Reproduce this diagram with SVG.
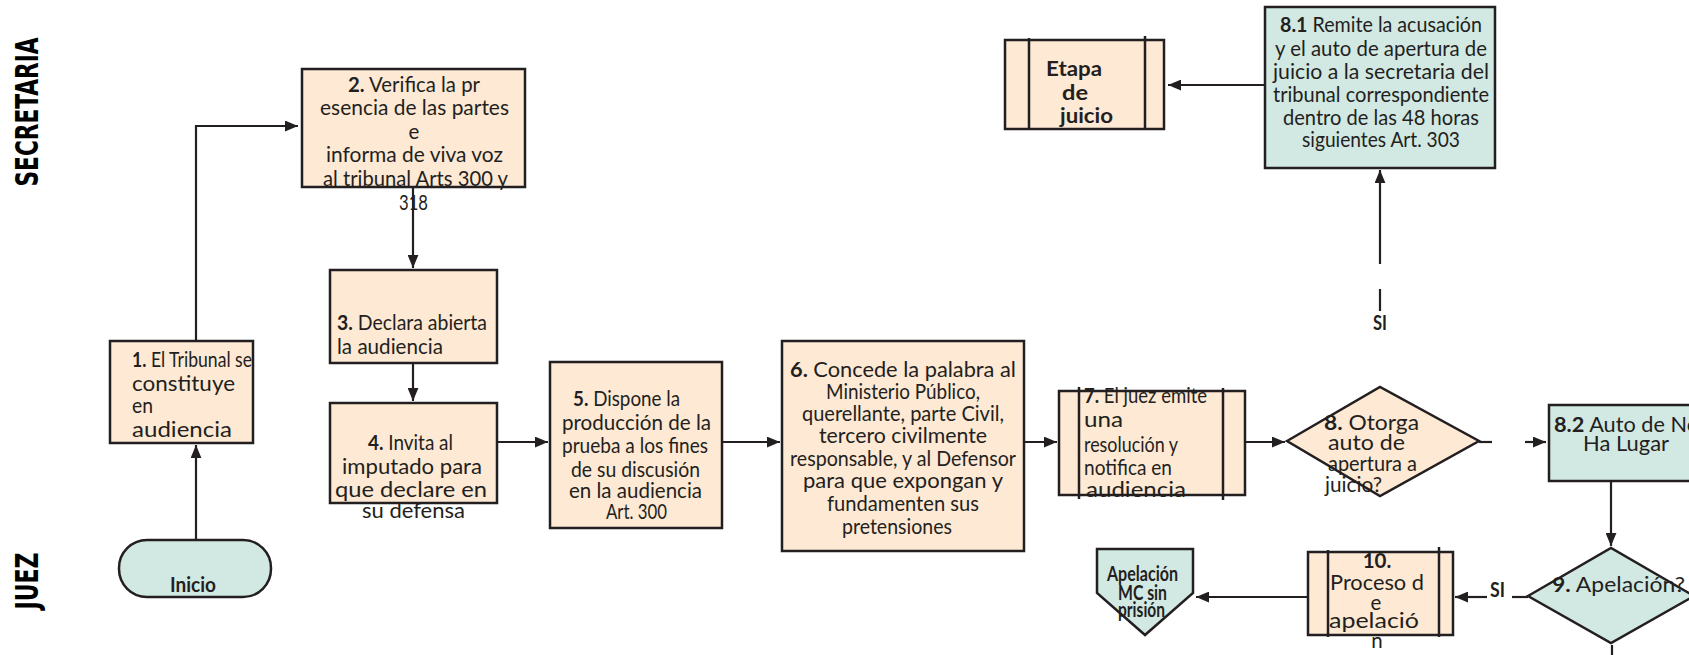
<svg xmlns="http://www.w3.org/2000/svg" width="1689" height="655" viewBox="0 0 1689 655">
<defs>
<style>
.box{fill:#FDE9D4;stroke:#231F20;stroke-width:2.5}
.tb{fill:#D2E8E2;stroke:#231F20;stroke-width:2.5}
.ln{stroke:#231F20;stroke-width:2.5;fill:none}
.t{font-family:Lato,"Liberation Sans",sans-serif;font-size:20.5px;fill:#231F20}
.b{font-weight:bold}
.c{text-anchor:middle}
.lane{font-family:"DejaVu Sans Condensed","DejaVu Sans",sans-serif;font-weight:bold;font-size:32px;fill:#000;text-anchor:middle}
.conn{stroke:#231F20;stroke-width:2.2;fill:none}
</style>
<marker id="ah" viewBox="0 0 12 10" markerWidth="13" markerHeight="11" refX="12" refY="5" orient="auto" markerUnits="userSpaceOnUse">
<path d="M0,0 L12,5 L0,10 z" fill="#231F20"/>
</marker>
</defs>
<rect width="1689" height="655" fill="#fff"/>

<g id="lanes">
<text class="lane" transform="translate(38,112) rotate(-90)" textLength="149" lengthAdjust="spacingAndGlyphs">SECRETARIA</text>
<text class="lane" transform="translate(38,581) rotate(-90)" textLength="57" lengthAdjust="spacingAndGlyphs">JUEZ</text>
</g>

<g id="inicio">
<rect class="tb" x="119" y="540" width="152" height="57" rx="28"/>
<text class="t b" x="170" y="592" font-size="17.5" textLength="46" lengthAdjust="spacingAndGlyphs">Inicio</text>
</g>

<g id="n1">
<rect class="box" x="110" y="341" width="143" height="102"/>
<text class="t" x="132" y="367" font-size="18" textLength="120" lengthAdjust="spacingAndGlyphs"><tspan class="b">1.</tspan> El Tribunal se</text>
<text class="t" x="132" y="391" font-size="22" textLength="103" lengthAdjust="spacingAndGlyphs">constituye</text>
<text class="t" x="132" y="413" font-size="22" textLength="21" lengthAdjust="spacingAndGlyphs">en</text>
<text class="t" x="132" y="437" font-size="22" textLength="100" lengthAdjust="spacingAndGlyphs">audiencia</text>
</g>

<g id="n2">
<rect class="box" x="302" y="69" width="223" height="118"/>
<text class="t" x="348" y="92" font-size="21.5" textLength="132" lengthAdjust="spacingAndGlyphs"><tspan class="b">2.</tspan> Verifica la pr</text>
<text class="t" x="320" y="115" font-size="21.5" textLength="189" lengthAdjust="spacingAndGlyphs">esencia de las partes</text>
<text class="t c" x="414" y="139" font-size="21.5">e</text>
<text class="t" x="326" y="162" font-size="21.5" textLength="177" lengthAdjust="spacingAndGlyphs">informa de viva voz</text>
<text class="t" x="323" y="186" font-size="21.5" textLength="185" lengthAdjust="spacingAndGlyphs">al tribunal Arts 300 y</text>
<text class="t" x="399" y="210" font-size="20" textLength="29" lengthAdjust="spacingAndGlyphs">318</text>
</g>

<g id="n3">
<rect class="box" x="330" y="270" width="167" height="93"/>
<text class="t" x="337" y="330" textLength="150" lengthAdjust="spacingAndGlyphs"><tspan class="b">3.</tspan> Declara abierta</text>
<text class="t" x="337" y="354" textLength="106" lengthAdjust="spacingAndGlyphs">la audiencia</text>
</g>

<g id="n4">
<rect class="box" x="330" y="403" width="167" height="100"/>
<text class="t" x="368" y="450" textLength="85" lengthAdjust="spacingAndGlyphs"><tspan class="b">4.</tspan> Invita al</text>
<text class="t" x="342" y="474" textLength="140" lengthAdjust="spacingAndGlyphs">imputado para</text>
<text class="t" x="335" y="497" textLength="152" lengthAdjust="spacingAndGlyphs">que declare en</text>
<text class="t" x="362" y="518" textLength="103" lengthAdjust="spacingAndGlyphs">su defensa</text>
</g>

<g id="n5">
<rect class="box" x="550" y="362" width="172" height="166"/>
<text class="t" x="573" y="406" textLength="107" lengthAdjust="spacingAndGlyphs"><tspan class="b">5.</tspan> Dispone la</text>
<text class="t" x="562" y="430" textLength="149" lengthAdjust="spacingAndGlyphs">producción de la</text>
<text class="t" x="562" y="453" textLength="146" lengthAdjust="spacingAndGlyphs">prueba a los fines</text>
<text class="t" x="571" y="477" textLength="129" lengthAdjust="spacingAndGlyphs">de su discusión</text>
<text class="t" x="569" y="498" textLength="133" lengthAdjust="spacingAndGlyphs">en la audiencia</text>
<text class="t" x="606" y="519" textLength="61" lengthAdjust="spacingAndGlyphs">Art. 300</text>
</g>

<g id="n6">
<rect class="box" x="782" y="341" width="242" height="210"/>
<text class="t" x="790" y="377" textLength="226" lengthAdjust="spacingAndGlyphs"><tspan class="b">6.</tspan> Concede la palabra al</text>
<text class="t" x="826" y="399" textLength="154" lengthAdjust="spacingAndGlyphs">Ministerio Público,</text>
<text class="t" x="802" y="421" textLength="202" lengthAdjust="spacingAndGlyphs">querellante, parte Civil,</text>
<text class="t" x="819" y="443" textLength="168" lengthAdjust="spacingAndGlyphs">tercero civilmente</text>
<text class="t" x="790" y="466" textLength="226" lengthAdjust="spacingAndGlyphs">responsable, y al Defensor</text>
<text class="t" x="803" y="488" textLength="200" lengthAdjust="spacingAndGlyphs">para que expongan y</text>
<text class="t" x="827" y="511" textLength="152" lengthAdjust="spacingAndGlyphs">fundamenten sus</text>
<text class="t" x="842" y="534" textLength="110" lengthAdjust="spacingAndGlyphs">pretensiones</text>
</g>

<g id="n7">
<rect class="box" x="1059" y="391" width="186" height="104"/>
<line class="ln" x1="1079" y1="387" x2="1079" y2="499"/>
<line class="ln" x1="1223" y1="388" x2="1223" y2="500"/>
<text class="t" x="1084" y="403" textLength="123" lengthAdjust="spacingAndGlyphs"><tspan class="b">7.</tspan> El juez emite</text>
<text class="t" x="1084" y="427" textLength="39" lengthAdjust="spacingAndGlyphs">una</text>
<text class="t" x="1084" y="452" textLength="94" lengthAdjust="spacingAndGlyphs">resolución y</text>
<text class="t" x="1084" y="475" textLength="88" lengthAdjust="spacingAndGlyphs">notifica en</text>
<text class="t" x="1086" y="497" textLength="100" lengthAdjust="spacingAndGlyphs">audiencia</text>
</g>

<g id="n8">
<polygon class="box" points="1287,441 1380,387 1479,441 1380,496"/>
<text class="t" x="1324" y="430" font-size="19.5" textLength="95" lengthAdjust="spacingAndGlyphs"><tspan class="b">8.</tspan> Otorga</text>
<text class="t" x="1328" y="450" font-size="19.5" textLength="77" lengthAdjust="spacingAndGlyphs">auto de</text>
<text class="t" x="1328" y="471" font-size="19.5" textLength="89" lengthAdjust="spacingAndGlyphs">apertura a</text>
<text class="t" x="1325" y="492" font-size="19.5" textLength="57" lengthAdjust="spacingAndGlyphs">juicio?</text>
</g>

<g id="n81">
<rect class="tb" x="1265" y="7" width="230" height="161"/>
<text class="t" x="1280" y="32" font-size="18.5" textLength="202" lengthAdjust="spacingAndGlyphs"><tspan class="b">8.1</tspan> Remite la acusación</text>
<text class="t" x="1275" y="56" font-size="18.5" textLength="212" lengthAdjust="spacingAndGlyphs">y el auto de apertura de</text>
<text class="t" x="1273" y="79" font-size="18.5" textLength="216" lengthAdjust="spacingAndGlyphs">juicio a la secretaria del</text>
<text class="t" x="1273" y="102" font-size="18.5" textLength="216" lengthAdjust="spacingAndGlyphs">tribunal correspondiente</text>
<text class="t" x="1283" y="125" font-size="18.5" textLength="196" lengthAdjust="spacingAndGlyphs">dentro de las 48 horas</text>
<text class="t" x="1302" y="147" font-size="18.5" textLength="158" lengthAdjust="spacingAndGlyphs">siguientes Art. 303</text>
</g>

<g id="etapa">
<rect class="box" x="1005" y="40" width="159" height="89"/>
<line class="ln" x1="1029" y1="38" x2="1029" y2="130"/>
<line class="ln" x1="1145" y1="36" x2="1145" y2="128"/>
<text class="t b" x="1046" y="76" textLength="56" lengthAdjust="spacingAndGlyphs">Etapa</text>
<text class="t b" x="1062" y="100" textLength="26" lengthAdjust="spacingAndGlyphs">de</text>
<text class="t b" x="1060" y="123" textLength="53" lengthAdjust="spacingAndGlyphs">juicio</text>
</g>

<g id="n82">
<rect class="tb" x="1549" y="405" width="154" height="76"/>
<text class="t" x="1554" y="432" font-size="21" textLength="145" lengthAdjust="spacingAndGlyphs"><tspan class="b">8.2</tspan> Auto de No</text>
<text class="t" x="1583" y="451" font-size="21" textLength="86" lengthAdjust="spacingAndGlyphs">Ha Lugar</text>
</g>

<g id="n9">
<polygon class="tb" points="1528,596 1611,548 1694,596 1611,643"/>
<text class="t" x="1552" y="592" font-size="21" textLength="133" lengthAdjust="spacingAndGlyphs"><tspan class="b">9.</tspan> Apelación?</text>
</g>

<g id="n10">
<rect class="box" x="1308" y="552" width="145" height="83"/>
<line class="ln" x1="1328" y1="550" x2="1328" y2="637"/>
<line class="ln" x1="1439" y1="547" x2="1439" y2="637"/>
<text class="t b c" x="1377" y="568" font-size="19">10.</text>
<text class="t" x="1330" y="590" font-size="19.5" textLength="94" lengthAdjust="spacingAndGlyphs">Proceso d</text>
<text class="t c" x="1376" y="610" font-size="19.5">e</text>
<text class="t" x="1329" y="628" font-size="19.5" textLength="90" lengthAdjust="spacingAndGlyphs">apelació</text>
<text class="t c" x="1377" y="648" font-size="19.5">n</text>
</g>

<g id="apelmc">
<polygon class="tb" points="1097,549 1193,549 1193,593 1145,635 1097,593"/>
<text class="t b" x="1107" y="581" font-size="14" textLength="71" lengthAdjust="spacingAndGlyphs">Apelación</text>
<text class="t b" x="1118" y="600" font-size="14" textLength="49" lengthAdjust="spacingAndGlyphs">MC sin</text>
<text class="t b" x="1118" y="617" font-size="14" textLength="47" lengthAdjust="spacingAndGlyphs">prisión</text>
</g>

<g id="connectors">
<path class="conn" d="M196,540 V445" marker-end="url(#ah)"/>
<path class="conn" d="M196,341 V126 H298" marker-end="url(#ah)"/>
<path class="conn" d="M413,187 V268" marker-end="url(#ah)"/>
<path class="conn" d="M413,363 V401" marker-end="url(#ah)"/>
<path class="conn" d="M497,442 H548" marker-end="url(#ah)"/>
<path class="conn" d="M722,442 H780" marker-end="url(#ah)"/>
<path class="conn" d="M1024,442 H1057" marker-end="url(#ah)"/>
<path class="conn" d="M1245,442 H1285" marker-end="url(#ah)"/>
<path class="conn" d="M1380,264 V170" marker-end="url(#ah)"/>
<path class="conn" d="M1380,311 V289"/>
<text class="t b" x="1373" y="330" font-size="17.5" textLength="14" lengthAdjust="spacingAndGlyphs">SI</text>
<path class="conn" d="M1265,85 H1168" marker-end="url(#ah)"/>
<path class="conn" d="M1479,442 H1492"/>
<path class="conn" d="M1525,442 H1546" marker-end="url(#ah)"/>
<path class="conn" d="M1611,481 V546" marker-end="url(#ah)"/>
<path class="conn" d="M1528,597 H1512"/>
<text class="t b" x="1490" y="597" font-size="17.5" textLength="15" lengthAdjust="spacingAndGlyphs">SI</text>
<path class="conn" d="M1487,597 H1455" marker-end="url(#ah)"/>
<path class="conn" d="M1308,597 H1196" marker-end="url(#ah)"/>
<path class="conn" d="M1612,645 V655"/>
</g>
</svg>
